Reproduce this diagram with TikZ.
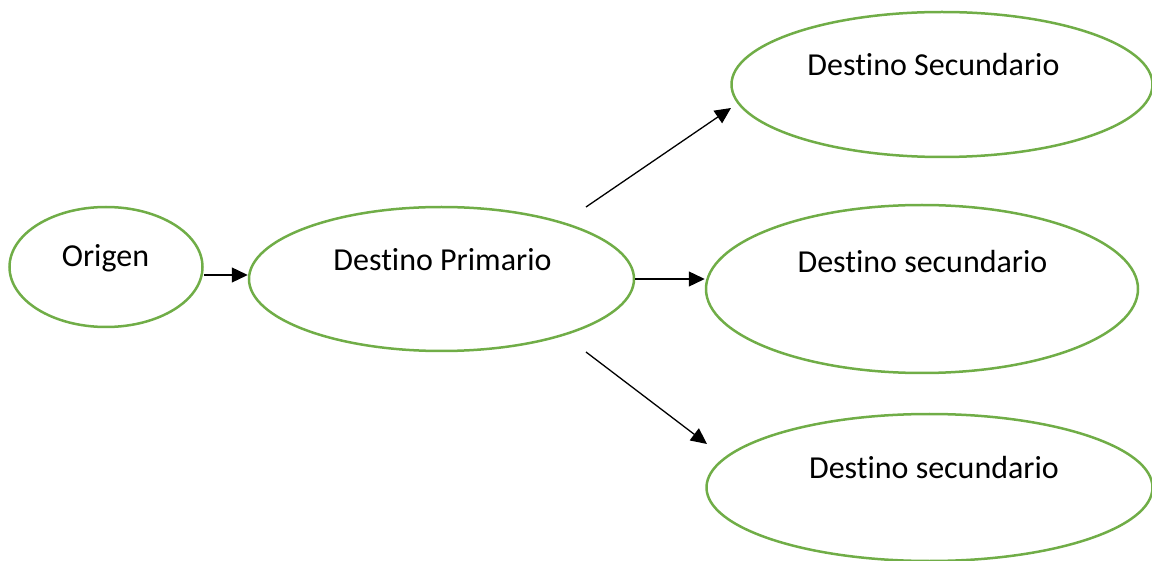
\documentclass[tikz,border=0pt]{standalone}
\usepackage{fontspec}
\setmainfont{Carlito}[RawFeature={-liga;-clig;-calt;-dlig}]
\usetikzlibrary{arrows.meta,shapes.geometric}
\definecolor{offgreen}{HTML}{70AD47}
\newcommand\destword{Dest\kern0pt ino}
\begin{document}
\begin{tikzpicture}[x=1pt,y=-1pt,
  oval/.style={draw=offgreen,line width=2.5pt,ellipse,inner sep=0pt},
  lbl/.style={anchor=base,inner sep=0pt,font=\fontsize{32}{38}\selectfont},
  arr/.style={draw=black,line width=1.3pt,-{Triangle[length=16pt,width=15pt]}}]
\useasboundingbox (0,0) rectangle (1152,561);
\node[oval,minimum width=193pt,minimum height=120pt] (o) at (106,267) {};
\node[oval,minimum width=385pt,minimum height=144pt] (p) at (441.5,279) {};
\node[oval,minimum width=421pt,minimum height=145pt] (s1) at (942,84.5) {};
\node[oval,minimum width=432pt,minimum height=168pt] (s2) at (922,289) {};
\node[oval,minimum width=446pt,minimum height=147pt] (s3) at (929.5,487.5) {};
\node[lbl] (to) at (105.5,267) {Origen};
\node[lbl] (tp) at (442.5,271) {\destword{} Primario};
\node[lbl] (t1) at (933.5,75.5) {\destword{} Secundario};
\node[lbl] (t2) at (922.5,273) {\destword{} secundario};
\node[lbl] (t3) at (934,478) {\destword{} secundario};
\coordinate (a1) at (586,207);
\coordinate (b1) at (731,108);
\coordinate (a3) at (586,352);
\coordinate (b3) at (707,444);
\draw[arr] (o.east |- 0,275) -- (p.west |- 0,275);
\draw[arr] (p.east) -- (s2.west |- p.east);
\draw[arr] (a1) -- (b1);
\draw[arr] (a3) -- (b3);
\end{tikzpicture}
\end{document}
